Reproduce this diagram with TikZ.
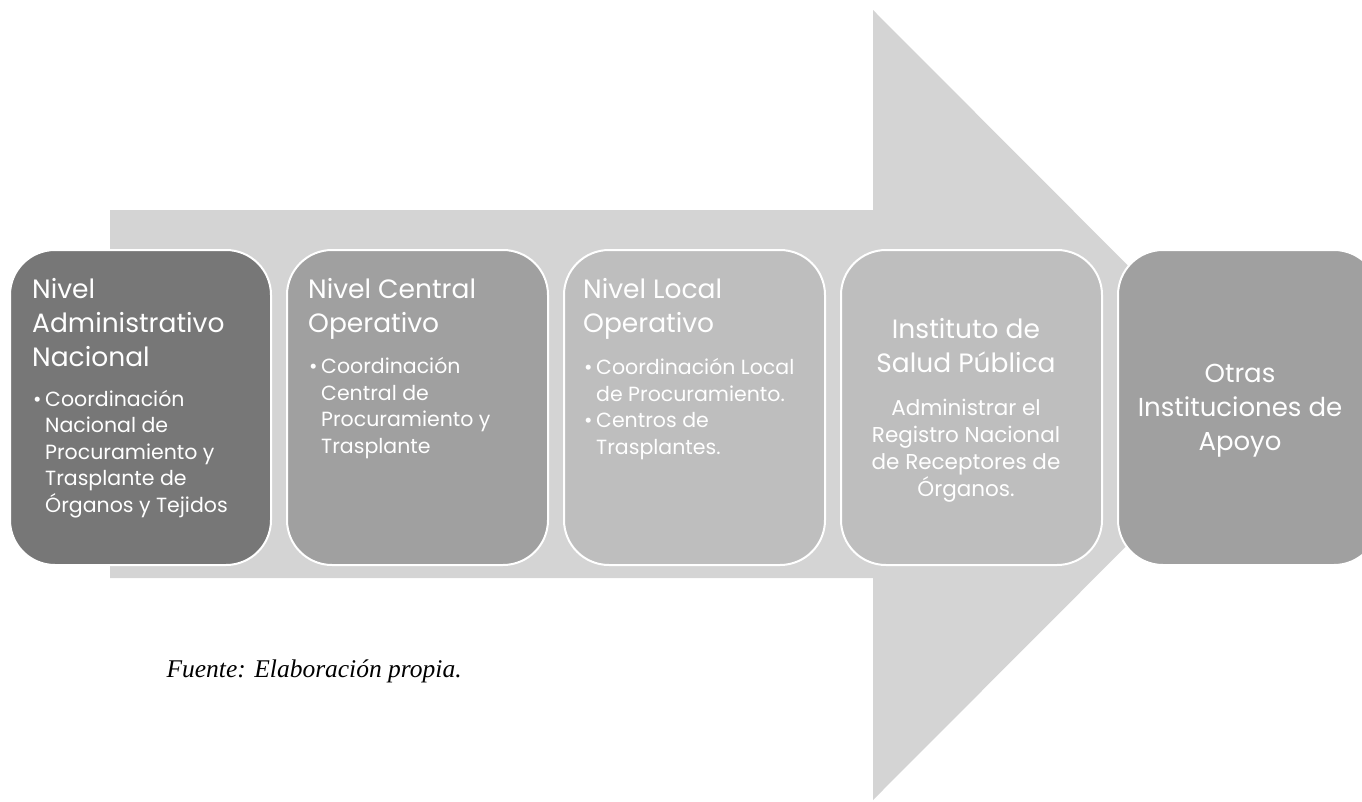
\documentclass[tikz,border=0pt]{standalone}
\usepackage{fontspec}
\setmainfont{Poppins}
\newfontfamily\capfont{Liberation Serif}
\usetikzlibrary{positioning}

\definecolor{arrowgray}{HTML}{D4D4D4}
\definecolor{gradeA}{HTML}{777777}
\definecolor{gradeB}{HTML}{A0A0A0}
\definecolor{gradeC}{HTML}{BEBEBE}

\newcommand{\bul}{\makebox[13pt][l]{\hspace{1pt}•}}
\newcommand{\ind}{\hspace*{13pt}}

\begin{document}
\begin{tikzpicture}[x=1pt,y=-1pt,
    level/.style={rounded corners=45pt,draw=white,line width=2pt,
      minimum width=261pt,minimum height=315pt,inner sep=0pt},
    head/.style={text=white,align=left,inner sep=0pt,
      font=\fontsize{26.5}{34}\selectfont},
    body/.style={text=white,align=left,inner sep=0pt,
      font=\fontsize{20.5}{26.5}\selectfont}]

    \useasboundingbox (0,0) rectangle (1362,801);

    % Big arrow behind the levels
    \coordinate (T1) at (110,210);
    \coordinate (T2) at (873,210);
    \coordinate (H1) at (873,10);
    \coordinate (tip) at (1267,405);
    \coordinate (H2) at (873,800);
    \coordinate (T3) at (873,578);
    \coordinate (T4) at (110,578);
    \fill[arrowgray] (T1) -- (T2) -- (H1) -- (tip) -- (H2) -- (T3) -- (T4) -- cycle;

    % Levels
    \node[level,fill=gradeA] (adm) at (140.5,407.5) {};
    \node[level,fill=gradeB,right=14pt of adm] (cen) {};
    \node[level,fill=gradeC,right=14pt of cen] (loc) {};
    \node[level,fill=gradeC,right=14pt of loc] (isp) {};
    \node[level,fill=gradeB,right=14pt of isp] (otr) {};

    % Texts of the levels (base = last line)
    \node[head,anchor=base west] (admh) at (32,366)
      {Nivel\\Administrativo\\Nacional};
    \node[body,anchor=base west] (admb) at (32,512)
      {\bul Coordinación\\ \ind Nacional de\\ \ind Procuramiento y\\
       \ind Trasplante de\\ \ind Órganos y Tejidos};

    \node[head,anchor=base west] (cenh) at (308,332)
      {Nivel Central\\Operativo};
    \node[body,anchor=base west] (cenb) at (308,453)
      {\bul Coordinación\\ \ind Central de\\ \ind Procuramiento y\\ \ind Trasplante};

    \node[head,anchor=base west] (loch) at (583,332)
      {Nivel Local\\Operativo};
    \node[body,anchor=base west] (locb) at (583,454)
      {\bul Coordinación Local\\ \ind de Procuramiento.\\ \bul Centros de\\ \ind Trasplantes.};

    \node[head,align=center,anchor=base] (isph) at (966,372)
      {Instituto de\\Salud Pública};
    \node[body,align=center,anchor=base,font=\fontsize{21.5}{27}\selectfont] (ispb)
      at (966,496) {Administrar el\\Registro Nacional\\de Receptores de\\Órganos.};

    \node[head,align=center,anchor=base,font=\fontsize{26}{34}\selectfont] (otrh)
      at (1240,450) {Otras\\Instituciones de\\Apoyo};

    % Source line
    \node[anchor=base west,font=\capfont\itshape\fontsize{25.5}{30}\selectfont] (src)
      at (163,677) {Fuente: Elaboración propia.};

\end{tikzpicture}
\end{document}
